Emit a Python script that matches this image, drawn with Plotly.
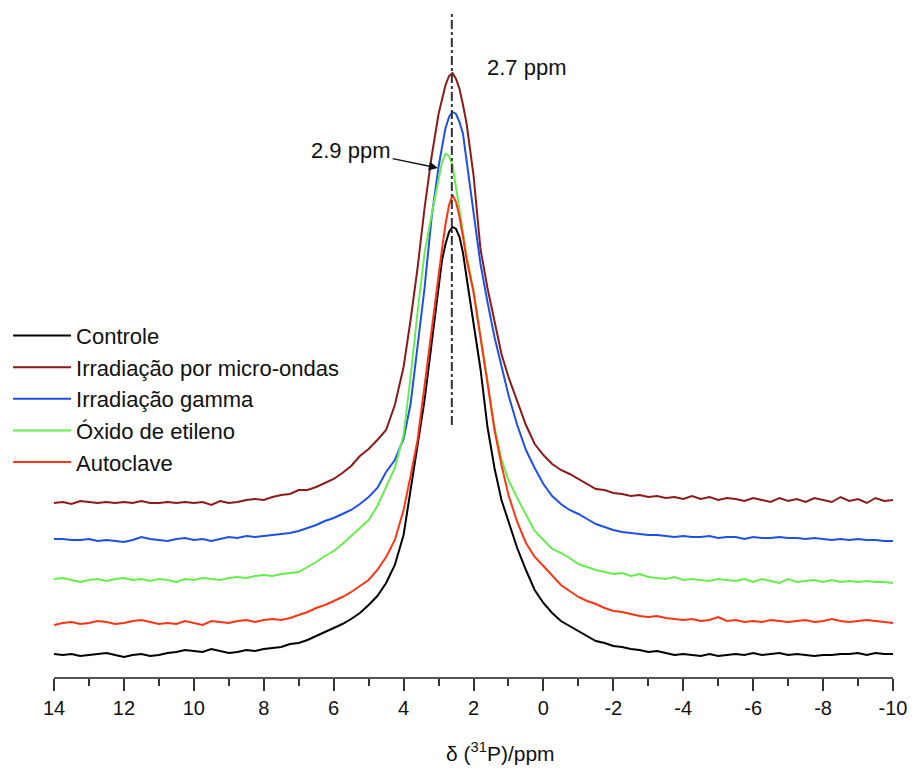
import plotly.graph_objects as go

# chemical shift grid (ppm)
ppm = [14.0, 13.75, 13.5, 13.25, 13.0, 12.75, 12.5, 12.25, 12.0, 11.75, 11.5, 11.25,
       11.0, 10.75, 10.5, 10.25, 10.0, 9.75, 9.5, 9.25, 9.0, 8.75, 8.5, 8.25,
       8.0, 7.75, 7.5, 7.25, 7.0, 6.75, 6.5, 6.25, 6.0, 5.75, 5.5, 5.25,
       5.0, 4.75, 4.5, 4.25, 4.0, 3.8, 3.6, 3.4, 3.2, 3.0, 2.9, 2.8,
       2.7, 2.6, 2.5, 2.4, 2.3, 2.2, 2.0, 1.8, 1.6, 1.4, 1.2, 1.0,
       0.75, 0.5, 0.25, 0.0, -0.25, -0.5, -0.75, -1.0, -1.25, -1.5, -1.75, -2.0,
       -2.25, -2.5, -2.75, -3.0, -3.25, -3.5, -3.75, -4.0, -4.25, -4.5, -4.75, -5.0,
       -5.25, -5.5, -5.75, -6.0, -6.25, -6.5, -6.75, -7.0, -7.25, -7.5, -7.75, -8.0,
       -8.25, -8.5, -8.75, -9.0, -9.25, -9.5, -9.75, -10.0]

controle = [23, 22, 23, 21, 22, 23, 24, 22, 20, 22, 23, 21,
            22, 24, 25, 27, 26, 25, 28, 26, 24, 25, 27, 26,
            28, 29, 30, 33, 34, 37, 41, 45, 49, 53, 58, 64,
            72, 81, 94, 112, 142, 185, 232, 277, 334, 390, 417, 433,
            445, 450, 448, 440, 424, 400, 354, 308, 250, 209, 177, 155,
            129, 107, 87, 74, 64, 56, 51, 46, 41, 36, 34, 31,
            30, 28, 27, 25, 26, 24, 22, 23, 22, 21, 23, 21,
            22, 23, 22, 24, 22, 23, 24, 22, 23, 22, 21, 22,
            22, 23, 23, 24, 22, 24, 23, 23]

micro_ondas = [174, 175, 173, 176, 175, 174, 175, 174, 175, 174, 176, 174,
               174, 175, 174, 175, 174, 175, 172, 176, 174, 175, 177, 178,
               177, 180, 182, 183, 187, 187, 190, 194, 198, 204, 211, 221,
               228, 237, 247, 272, 310, 357, 409, 469, 520, 563, 578, 592,
               601, 604, 598, 588, 572, 554, 502, 428, 389, 355, 323, 300,
               277, 252, 233, 222, 213, 207, 203, 198, 193, 188, 187, 184,
               183, 181, 182, 180, 181, 179, 180, 178, 181, 178, 180, 177,
               179, 178, 176, 179, 177, 175, 179, 176, 178, 175, 179, 177,
               175, 180, 176, 178, 174, 179, 176, 177]

gamma = [138, 138, 137, 137, 138, 136, 137, 136, 135, 137, 140, 138,
         137, 136, 138, 139, 137, 138, 136, 138, 140, 139, 141, 140,
         141, 142, 143, 144, 146, 149, 152, 156, 159, 163, 167, 173,
         180, 189, 205, 217, 238, 273, 330, 389, 459, 510, 530, 549,
         560, 565, 563, 555, 543, 517, 469, 413, 375, 340, 311, 282,
         252, 227, 209, 193, 181, 173, 167, 163, 158, 153, 150, 147,
         145, 144, 143, 142, 142, 141, 140, 141, 140, 140, 141, 139,
         140, 140, 138, 140, 139, 139, 140, 139, 139, 138, 139, 138,
         137, 138, 137, 138, 137, 137, 136, 136]

oxido = [98, 99, 97, 95, 97, 98, 96, 98, 99, 97, 98, 96,
         98, 97, 95, 98, 97, 99, 98, 97, 99, 100, 99, 101,
         102, 101, 103, 104, 105, 110, 115, 121, 126, 133, 141, 149,
         157, 171, 190, 209, 242, 300, 365, 424, 462, 497, 515, 523,
         521, 512, 490, 469, 444, 422, 387, 341, 294, 250, 218, 197,
         179, 162, 146, 137, 128, 124, 119, 113, 110, 107, 105, 103,
         104, 101, 103, 100, 99, 98, 100, 97, 98, 97, 96, 98,
         97, 96, 98, 95, 98, 96, 94, 98, 95, 96, 97, 95,
         97, 95, 96, 95, 96, 95, 95, 94]

autoclave = [52, 54, 55, 53, 54, 56, 55, 53, 54, 56, 57, 55,
             53, 54, 53, 56, 54, 52, 56, 55, 54, 56, 57, 55,
             57, 58, 57, 59, 62, 65, 69, 72, 76, 80, 85, 91,
             97, 107, 120, 137, 167, 201, 237, 291, 349, 401, 428, 453,
             472, 482, 475, 460, 440, 418, 385, 341, 294, 247, 212, 182,
             155, 134, 120, 111, 101, 92, 86, 80, 76, 73, 69, 66,
             65, 63, 61, 60, 61, 59, 58, 57, 58, 56, 57, 60,
             56, 57, 55, 56, 55, 57, 56, 55, 56, 57, 55, 56,
             58, 56, 55, 56, 57, 56, 55, 54]

names = ["Controle", "Irradiação por micro-ondas", "Irradiação gamma",
         "Óxido de etileno", "Autoclave"]
series = [controle, micro_ondas, gamma, oxido, autoclave]
colors = ["#000000", "#8B1A1A", "#1E50E6", "#66EE4E", "#FF3414"]

x_ticks = [14, 12, 10, 8, 6, 4, 2, 0, -2, -4, -6, -8, -10]
peak_line_ppm = 2.62
arrow_head = (3.02, 509)
arrow_text = (5.5, 527)

FONT = "Arial, Liberation Sans, sans-serif"

fig = go.Figure()
for name, ys, c in zip(names, series, colors):
    fig.add_trace(go.Scatter(x=ppm, y=ys, mode="lines", name=name,
                             line=dict(color=c, width=2), legendgroup=name))

fig.add_shape(type="line", xref="x", yref="y", x0=peak_line_ppm, x1=peak_line_ppm,
              y0=252, y1=665, line=dict(color="#333333", width=2, dash="dashdot"))

fig.add_annotation(x=1.67, y=610, xref="x", yref="y", text="2.7 ppm", showarrow=False,
                   xanchor="left", font=dict(family=FONT, size=22, color="#111111"))
fig.add_annotation(x=arrow_head[0], y=arrow_head[1], xref="x", yref="y",
                   ax=arrow_text[0], ay=arrow_text[1], axref="x", ayref="y",
                   text="2.9 ppm", showarrow=True, arrowhead=2, arrowsize=1.2,
                   arrowwidth=1.5, arrowcolor="#111111",
                   font=dict(family=FONT, size=22, color="#111111"))

# x-axis title (placed as text so it sits where the reference has it)
fig.add_annotation(x=0.5316, y=0, xref="paper", yref="paper", yshift=-75,
                   text="δ (<sup>31</sup>P)/ppm", showarrow=False,
                   xanchor="center", yanchor="middle",
                   font=dict(family=FONT, size=21, color="#111111"))

# the page body adds an 8px margin; the figure is sized to compensate
fig.update_layout(
    width=907, height=767,
    margin=dict(l=46, r=22, t=2, b=98, autoexpand=False),
    paper_bgcolor="white", plot_bgcolor="white",
    font=dict(family=FONT, color="#111111"),
    showlegend=True,
    legend=dict(x=-0.0548, y=0.543, xanchor="left", yanchor="top",
                bgcolor="rgba(0,0,0,0)", font=dict(family=FONT, size=22, color="#111111"),
                tracegroupgap=0, itemwidth=58),
    xaxis=dict(range=[14, -10], tickmode="array", tickvals=x_ticks,
               ticktext=[str(t) for t in x_ticks],
               ticks="outside", ticklen=12, tickwidth=1.5, tickcolor="#333333",
               minor=dict(dtick=1, ticks="outside", ticklen=7, tickwidth=1.5, tickcolor="#333333"),
               showline=True, linecolor="#555555", linewidth=2,
               showgrid=False, zeroline=False,
               tickfont=dict(family=FONT, size=20, color="#111111")),
    yaxis=dict(range=[0, 667], visible=False, showgrid=False, zeroline=False),
)

fig.write_html("out.html")
